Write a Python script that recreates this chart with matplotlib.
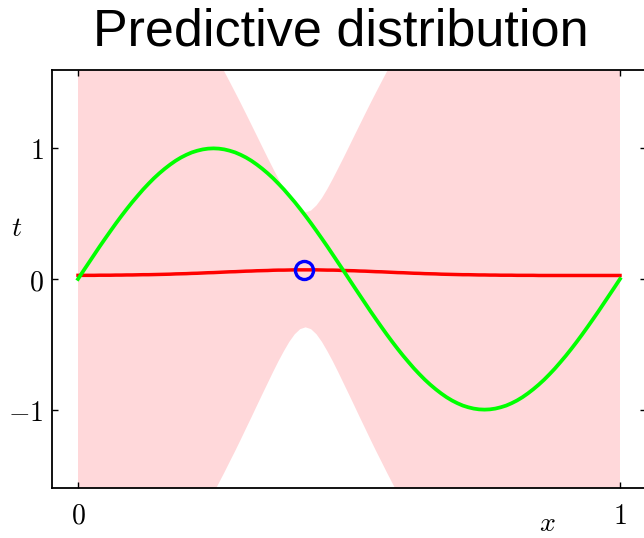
import numpy as np
import matplotlib
matplotlib.use("Agg")
import matplotlib.pyplot as plt

plt.rcParams["mathtext.fontset"] = "cm"

# inputs on a regular grid from 0 to 1 (step 0.01)
x_grid = np.linspace(0, 1, 101)

# underlying function sin(2*pi*x), sampled on the grid
t_true = [
    0.000, 0.063, 0.125, 0.187, 0.249, 0.309, 0.368, 0.426, 0.482, 0.536,
    0.588, 0.637, 0.685, 0.729, 0.771, 0.809, 0.844, 0.876, 0.905, 0.930,
    0.951, 0.969, 0.982, 0.992, 0.998, 1.000, 0.998, 0.992, 0.982, 0.969,
    0.951, 0.930, 0.905, 0.876, 0.844, 0.809, 0.771, 0.729, 0.685, 0.637,
    0.588, 0.536, 0.482, 0.426, 0.368, 0.309, 0.249, 0.187, 0.125, 0.063,
    0.000, -0.063, -0.125, -0.187, -0.249, -0.309, -0.368, -0.426, -0.482, -0.536,
    -0.588, -0.637, -0.685, -0.729, -0.771, -0.809, -0.844, -0.876, -0.905, -0.930,
    -0.951, -0.969, -0.982, -0.992, -0.998, -1.000, -0.998, -0.992, -0.982, -0.969,
    -0.951, -0.930, -0.905, -0.876, -0.844, -0.809, -0.771, -0.729, -0.685, -0.637,
    -0.588, -0.536, -0.482, -0.426, -0.368, -0.309, -0.249, -0.187, -0.125, -0.063,
    0.000,
]

# predictive mean
pred_mean = [
    0.028, 0.028, 0.028, 0.028, 0.029, 0.029, 0.029, 0.030, 0.030, 0.031,
    0.031, 0.032, 0.033, 0.033, 0.034, 0.035, 0.036, 0.037, 0.039, 0.040,
    0.041, 0.043, 0.044, 0.046, 0.048, 0.049, 0.051, 0.053, 0.055, 0.056,
    0.058, 0.060, 0.061, 0.063, 0.064, 0.065, 0.067, 0.068, 0.068, 0.069,
    0.070, 0.070, 0.070, 0.070, 0.070, 0.069, 0.068, 0.068, 0.067, 0.065,
    0.064, 0.063, 0.061, 0.060, 0.058, 0.056, 0.055, 0.053, 0.051, 0.049,
    0.048, 0.046, 0.044, 0.043, 0.041, 0.040, 0.039, 0.037, 0.036, 0.035,
    0.034, 0.033, 0.033, 0.032, 0.031, 0.031, 0.030, 0.030, 0.029, 0.029,
    0.029, 0.028, 0.028, 0.028, 0.028, 0.027, 0.027, 0.027, 0.027, 0.027,
    0.027, 0.027, 0.027, 0.027, 0.027, 0.027, 0.027, 0.027, 0.027, 0.027,
    0.027,
]

# predictive standard deviation
pred_std = [
    2.20, 2.20, 2.20, 2.20, 2.20, 2.20, 2.20, 2.20, 2.20, 2.20,
    2.20, 2.20, 2.20, 2.20, 2.20, 2.19, 2.18, 2.16, 2.13, 2.09,
    2.04, 1.98, 1.911, 1.840, 1.766, 1.690, 1.613, 1.535, 1.454, 1.373,
    1.290, 1.205, 1.120, 1.034, 0.948, 0.863, 0.779, 0.697, 0.620, 0.550,
    0.493, 0.454, 0.440, 0.454, 0.493, 0.550, 0.620, 0.697, 0.779, 0.863,
    0.948, 1.034, 1.120, 1.205, 1.290, 1.373, 1.454, 1.535, 1.613, 1.690,
    1.766, 1.840, 1.911, 1.98, 2.04, 2.09, 2.13, 2.16, 2.18, 2.19,
    2.20, 2.20, 2.20, 2.20, 2.20, 2.20, 2.20, 2.20, 2.20, 2.20,
    2.20, 2.20, 2.20, 2.20, 2.20, 2.20, 2.20, 2.20, 2.20, 2.20,
    2.20, 2.20, 2.20, 2.20, 2.20, 2.20, 2.20, 2.20, 2.20, 2.20,
    2.20,
]

# the single observation
x_obs = [0.417]
t_obs = [0.069]

x_ticks = [0, 1]
x_tick_labels = ["$0$", "$1$"]
y_ticks = [-1, 0, 1]
y_tick_labels = ["$-1$", "$0$", "$1$"]

PINK = "#ffd8da"
RED = "#ff0000"
GREEN = "#00ff00"
BLUE = "#0000ff"

mean = np.array(pred_mean)
std = np.array(pred_std)

fig = plt.figure(figsize=(6.44, 5.38), dpi=100)
ax = fig.add_axes([52 / 644, 1 - 488 / 538, 594 / 644, 418 / 538])

ax.fill_between(x_grid, mean - std, mean + std, color=PINK, linewidth=0, zorder=1)
ax.plot(x_grid, pred_mean, color=RED, linewidth=2.5, zorder=2)
ax.plot(x_grid, t_true, color=GREEN, linewidth=2.7, zorder=3)
ax.plot(x_obs, t_obs, "o", markersize=13, markerfacecolor="none",
        markeredgecolor=BLUE, markeredgewidth=2.4, zorder=4)

ax.set_xlim(-0.048, 1.048)
ax.set_ylim(-1.6, 1.6)

ax.set_xticks(x_ticks)
ax.set_xticklabels(x_tick_labels)
ax.set_yticks(y_ticks)
ax.set_yticklabels(y_tick_labels)
ax.tick_params(direction="in", length=4.3, width=1.0, top=True, right=True,
               labelsize=20)
ax.tick_params(axis="x", pad=10)
ax.tick_params(axis="y", pad=6)
for spine in ax.spines.values():
    spine.set_linewidth(1.3)

ax.text(-0.059, 0.622, "$t$", transform=ax.transAxes, fontsize=20,
        ha="center", va="center")
ax.text(0.834, -0.104, "$x$", transform=ax.transAxes, fontsize=20,
        ha="center", va="baseline")

fig.text(340.5 / 644, 1 - 46 / 538, "Predictive distribution",
         family="Liberation Sans", fontsize=37.5, ha="center", va="baseline")

fig.savefig("out.png", dpi=100)
